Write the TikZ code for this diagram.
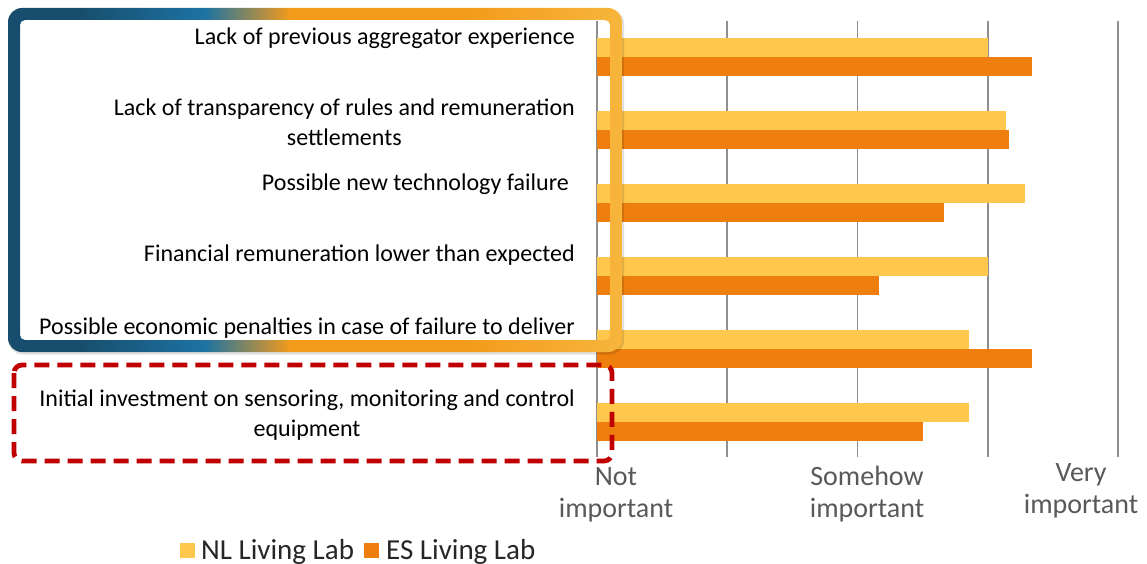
\documentclass[tikz,border=0pt]{standalone}
\usepackage{fontspec}
\setmainfont{Carlito}
\definecolor{nlc}{HTML}{FFC74B}
\definecolor{esc}{HTML}{EE7F0E}
\definecolor{gridc}{HTML}{8E8E8E}
\definecolor{axc}{HTML}{595959}
\definecolor{dblue}{HTML}{184E6D}
\definecolor{mblue}{HTML}{1C73A3}
\definecolor{orng}{HTML}{F39A1B}
\definecolor{lorng}{HTML}{F7B53C}
\definecolor{redc}{HTML}{C00000}
\pgfdeclarehorizontalshading{boxgrad}{100bp}{color(0bp)=(dblue); color(25bp)=(dblue); color(31bp)=(dblue); color(41bp)=(mblue); color(48bp)=(orng); color(62bp)=(orng); color(75bp)=(lorng); color(100bp)=(lorng)}
\begin{document}
\begin{tikzpicture}[x=1pt,y=-1pt,
  gridline/.style={draw=gridc, line width=1.8pt},
  lab/.style={anchor=base east, inner sep=0pt, font=\fontsize{24}{30}\selectfont},
  axlab/.style={anchor=base, inner sep=0pt, text=axc, font=\fontsize{28}{32}\selectfont},
  leglab/.style={anchor=base west, inner sep=0pt, text=black!85, font=\fontsize{29}{32}\selectfont}]
\useasboundingbox (0,0) rectangle (1147,564);
\fill[white] (0,0) rectangle (1147,564);
% grid
\foreach \i in {0,...,4}
  \draw[gridline] ({597+130.25*\i},21) -- ({597+130.25*\i},457);
% bars
\foreach \k/\nl/\es in {0/3/3.337, 1/3.1429/3.1667, 2/3.2857/2.6667, 3/3/2.1667, 4/2.8571/3.337, 5/2.8571/2.5} {
  \fill[nlc] (597,{38.5+72.9*\k}) rectangle ({597+130.25*\nl},{57.2+72.9*\k});
  \fill[esc] (597,{57.2+72.9*\k}) rectangle ({597+130.25*\es},{76+72.9*\k});
}
% soft shadow of the frame
\fill[black, opacity=0.12, even odd rule]
  [rounded corners=14pt] (8.5,9.5) rectangle (624,354.5)
  [rounded corners=5pt] (19,19) rectangle (611,341);
% gradient frame
\shade[shading=boxgrad, even odd rule]
  [rounded corners=14pt] (8,8) rectangle (622,352)
  [rounded corners=5pt] (20,20) rectangle (610,340);
% red dashed frame
\draw[redc, line width=4.8pt, dash pattern=on 15pt off 8pt, rounded corners=8pt] (14,365) rectangle (612,461);
% category labels
\node[lab] (c1) at (575,45) {Lack of previous aggregator experience};
\node[lab] (c2) at (575,116) {\begin{tabular}[t]{@{}c@{}}Lack of transparency of rules and remuneration\\ settlements\end{tabular}};
\node[lab] (c3) at (569,190) {Possible new technology failure};
\node[lab] (c4) at (575,261) {Financial remuneration lower than expected};
\node[lab] (c5) at (575,334) {Possible economic penalties in case of failure to deliver};
\node[lab] (c6) at (575,406) {\begin{tabular}[t]{@{}c@{}}Initial investment on sensoring, monitoring and control\\ equipment\end{tabular}};
% axis labels
\node[axlab] (a1) at (616,485) {\begin{tabular}[t]{@{}c@{}}Not\\ important\end{tabular}};
\node[axlab] (a2) at (867,485) {\begin{tabular}[t]{@{}c@{}}Somehow\\ important\end{tabular}};
\node[axlab] (a3) at (1081,481) {\begin{tabular}[t]{@{}c@{}}Very\\ important\end{tabular}};
% legend
\fill[nlc] (180,543) rectangle (195,558);
\node[leglab] (l1) at (201,559) {NL Living Lab};
\fill[esc] (364,543) rectangle (379,558);
\node[leglab] (l2) at (386,559) {ES Living Lab};
\end{tikzpicture}
\end{document}
